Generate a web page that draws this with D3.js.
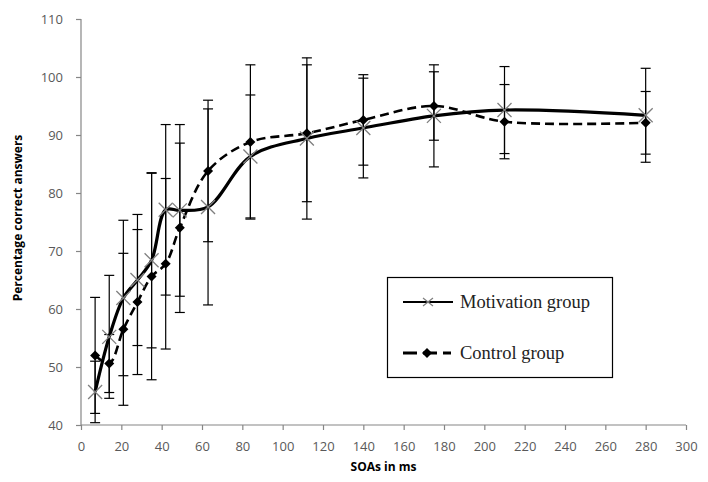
<!DOCTYPE html>
<html>
<head>
<meta charset="utf-8">
<script src="https://cdn.jsdelivr.net/npm/d3@7.9.0/dist/d3.min.js"></script>
<style>
  body { margin: 0; background: #fff; }
  svg { display: block; }
</style>
</head>
<body>
<svg id="chart" width="708" height="482"></svg>
<script>
// SOA values (ms) shared by both groups
const soas = [7, 14, 21, 28, 35, 42, 49, 63, 84, 112, 140, 175, 210, 280];
const motivation = [45.7, 55.2, 61.9, 65, 68.4, 77.1, 77, 77.6, 86.3, 89.4, 91.2, 93.3, 94.3, 93.4];
const motivationErr = [5.3, 10.6, 13.4, 11.3, 15.1, 14.7, 14.8, 16.9, 10.6, 13.9, 8.6, 8.8, 7.5, 8.1];
const control = [52, 50.6, 56.5, 61.2, 65.6, 67.8, 74, 83.8, 88.8, 90.3, 92.6, 95, 92.3, 92.1];
const controlErr = [10, 5, 13.1, 12.5, 17.8, 14.7, 14.6, 12.2, 13.3, 11.8, 7.8, 5.9, 6.4, 5.4];
const xTicks = d3.range(0, 301, 20);
const yTicks = d3.range(40, 111, 10);

const svg = d3.select('#chart');
const x = d3.scaleLinear().domain([0, 300]).range([81, 686]);
const y = d3.scaleLinear().domain([40, 110]).range([425, 19]);

const axisColor = '#868686';
const labelColor = '#595959';

// axes
const xAxis = svg.append('g')
  .attr('transform', `translate(0,${y(40)})`)
  .call(d3.axisBottom(x).tickValues(xTicks).tickSize(5).tickPadding(12));
const yAxis = svg.append('g')
  .attr('transform', `translate(${x(0)},0)`)
  .call(d3.axisLeft(y).tickValues(yTicks).tickSize(5).tickPadding(13));

[xAxis, yAxis].forEach(g => {
  g.select('.domain').attr('stroke', axisColor).attr('stroke-width', 1.2);
  g.selectAll('.tick line').attr('stroke', axisColor).attr('stroke-width', 1.2);
  g.selectAll('.tick text')
    .attr('fill', labelColor)
    .style('font-family', '"Open Sans", sans-serif')
    .style('font-size', '13px');
});
yAxis.select('.domain').attr('d', `M0,${y(110)}V${y(40)}`);
xAxis.select('.domain').attr('d', `M${x(0)},0H${x(300)}`);

// axis titles
svg.append('text')
  .attr('x', (x(0) + x(300)) / 2)
  .attr('y', 471)
  .attr('text-anchor', 'middle')
  .style('font-family', '"Open Sans", sans-serif')
  .style('font-size', '12px')
  .style('font-weight', 'bold')
  .attr('fill', '#000')
  .text('SOAs in ms');

svg.append('text')
  .attr('transform', `translate(22,${(y(40) + y(110)) / 2 - 4}) rotate(-90)`)
  .attr('text-anchor', 'middle')
  .style('font-family', '"Open Sans", sans-serif')
  .style('font-size', '12px')
  .style('font-weight', 'bold')
  .attr('fill', '#000')
  .text('Percentage correct answers');

// error bars
function errorBars(vals, errs) {
  const g = svg.append('g').attr('stroke', '#000').attr('stroke-width', 1.2);
  soas.forEach((s, i) => {
    const cx = x(s), lo = y(vals[i] - errs[i]), hi = y(vals[i] + errs[i]);
    g.append('line').attr('x1', cx).attr('x2', cx).attr('y1', lo).attr('y2', hi);
    g.append('line').attr('x1', cx - 5).attr('x2', cx + 5).attr('y1', lo).attr('y2', lo);
    g.append('line').attr('x1', cx - 5).attr('x2', cx + 5).attr('y1', hi).attr('y2', hi);
  });
}
errorBars(motivation, motivationErr);
errorBars(control, controlErr);

// lines
const line = d3.line().curve(d3.curveCatmullRom.alpha(0.5));
svg.append('path')
  .attr('d', line(soas.map((s, i) => [x(s), y(control[i])])))
  .attr('fill', 'none')
  .attr('stroke', '#000')
  .attr('stroke-width', 2.6)
  .attr('stroke-dasharray', '9,5');
svg.append('path')
  .attr('d', line(soas.map((s, i) => [x(s), y(motivation[i])])))
  .attr('fill', 'none')
  .attr('stroke', '#000')
  .attr('stroke-width', 3.2);

// markers
const diamond = 'M0,-5L5,0L0,5L-5,0Z';

svg.append('g').selectAll('path')
  .data(soas)
  .join('path')
  .attr('transform', (s, i) => `translate(${x(s)},${y(control[i])})`)
  .attr('d', diamond)
  .attr('fill', '#000');

svg.append('g').selectAll('path')
  .data(soas)
  .join('path')
  .attr('transform', (s, i) => `translate(${x(s)},${y(motivation[i])})`)
  .attr('d', 'M-7,-7L7,7M-7,7L7,-7')
  .attr('stroke', '#7f7f7f')
  .attr('stroke-width', 1.3)
  .attr('fill', 'none');

// legend
const legend = svg.append('g');
legend.append('rect')
  .attr('x', 387.5).attr('y', 277.5).attr('width', 225).attr('height', 100)
  .attr('fill', '#fff').attr('stroke', '#000').attr('stroke-width', 1.2);

const items = [
  { name: 'Motivation group', y: 302 },
  { name: 'Control group', y: 353 }
];
items.forEach((d, i) => {
  if (i === 0) {
    legend.append('line')
      .attr('x1', 403).attr('x2', 453).attr('y1', d.y).attr('y2', d.y)
      .attr('stroke', '#000').attr('stroke-width', 1.8);
    legend.append('path')
      .attr('transform', `translate(428,${d.y})`)
      .attr('d', 'M-5,-4L5,4M-5,4L5,-4')
      .attr('stroke', '#7f7f7f').attr('stroke-width', 1.2);
  } else {
    legend.append('line')
      .attr('x1', 403).attr('x2', 451).attr('y1', d.y).attr('y2', d.y)
      .attr('stroke', '#000').attr('stroke-width', 3.2)
      .attr('stroke-dasharray', '14,6');
    legend.append('path')
      .attr('transform', `translate(427,${d.y})`)
      .attr('d', diamond)
      .attr('fill', '#000');
  }
  legend.append('text')
    .attr('x', 460).attr('y', d.y + 6)
    .style('font-family', '"Liberation Serif", serif')
    .style('font-size', '18.5px')
    .attr('fill', '#222')
    .text(d.name);
});
</script>
</body>
</html>
